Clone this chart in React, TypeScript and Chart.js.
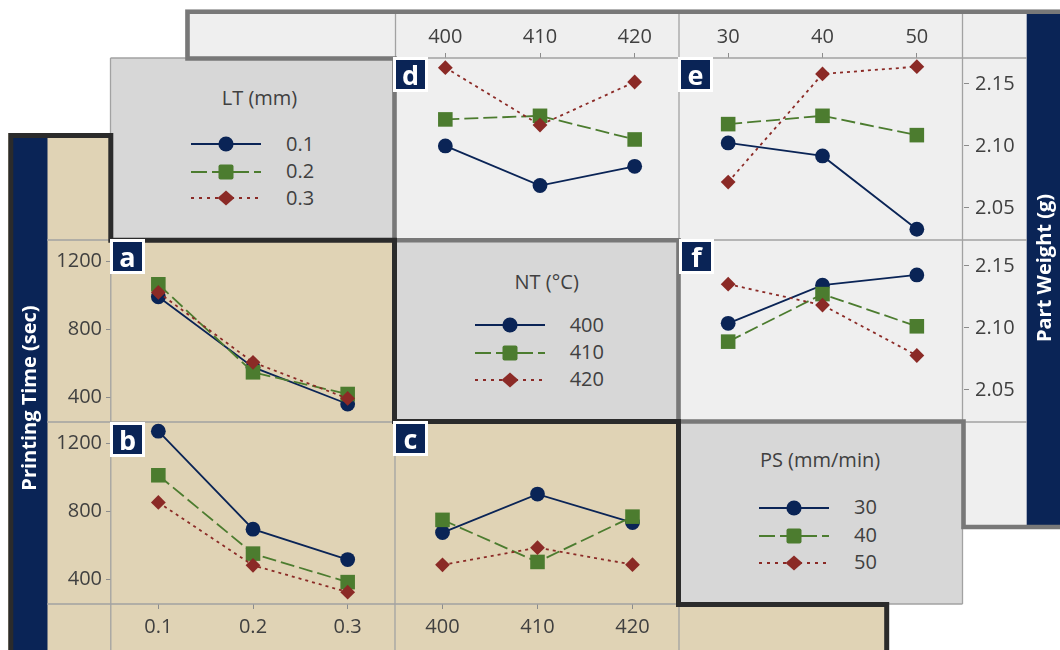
import React, { useEffect, useRef } from "react";
import { Chart, registerables } from "chart.js";

Chart.register(...registerables);

// ---------------- data ----------------
const LT_LEVELS = ["0.1", "0.2", "0.3"];
const NT_LEVELS = ["400", "410", "420"];
const PS_LEVELS = ["30", "40", "50"];

const TIME_TICKS = [400, 800, 1200];
const TIME_TICK_LABELS = ["400", "800", "1200"];
const WEIGHT_TICKS = [2.05, 2.1, 2.15];
const WEIGHT_TICK_LABELS = ["2.05", "2.10", "2.15"];

// (a) Printing time vs LT, lines = NT
const A_NT400 = [993, 578, 361];
const A_NT410 = [1067, 548, 420];
const A_NT420 = [1019, 607, 394];
// (b) Printing time vs LT, lines = PS
const B_PS30 = [1274, 696, 517];
const B_PS40 = [1014, 552, 384];
const B_PS50 = [854, 483, 325];
// (c) Printing time vs NT, lines = PS
const C_PS30 = [676, 903, 735];
const C_PS40 = [751, 503, 770];
const C_PS50 = [486, 587, 487];
// (d) Part weight vs NT, lines = LT
const D_LT01 = [2.1, 2.068, 2.0835];
const D_LT02 = [2.1214, 2.1243, 2.1052];
const D_LT03 = [2.1632, 2.1168, 2.1516];
// (e) Part weight vs PS, lines = LT
const E_LT01 = [2.1024, 2.0919, 2.0327];
const E_LT02 = [2.1176, 2.1243, 2.1087];
const E_LT03 = [2.0708, 2.1581, 2.164];
// (f) Part weight vs PS, lines = NT
const F_NT400 = [2.1037, 2.1345, 2.1428];
const F_NT410 = [2.0889, 2.1273, 2.1013];
const F_NT420 = [2.1353, 2.1184, 2.0777];

const TIME_RANGE = [255, 1328];
const WEIGHT_RANGE = [2.024, 2.171];

// ---------------- styles ----------------
const FONT = "'Open Sans', 'Noto Sans', sans-serif";
const NAVY = "#0a2456";
const GREEN = "#4c7c2f";
const RED = "#8b2a26";
const TEXT = "#404040";
const TAN = "#e0d3b5";
const LIGHT = "#efefef";
const LEGBG = "#d7d7d7";
const DARKB = "#2b2b2b";
const GRAYB = "#787878";
const THIN = "#a2a2a2";

const STYLE = [
  { color: NAVY, point: "circle", radius: 7.4, dash: [] as number[], legDash: "" },
  { color: GREEN, point: "rect", radius: 10.3, dash: [14, 5], legDash: "16 5" },
  { color: RED, point: "rectRot", radius: 7.4, dash: [3, 4], legDash: "3 5" },
];

type PanelSpec = {
  left: number;
  top: number;
  w: number;
  h: number;
  labels: string[];
  series: number[][];
  xPos: "top" | "bottom" | null;
  yPos: "left" | "right" | null;
  yRange: number[];
  yTicks: number[];
  yLabels: string[];
};

const PANELS: PanelSpec[] = [
  { left: 47, top: 240, w: 348, h: 182, labels: LT_LEVELS, series: [A_NT400, A_NT410, A_NT420], xPos: null, yPos: "left", yRange: TIME_RANGE, yTicks: TIME_TICKS, yLabels: TIME_TICK_LABELS },
  { left: 47, top: 422, w: 348, h: 228, labels: LT_LEVELS, series: [B_PS30, B_PS40, B_PS50], xPos: "bottom", yPos: "left", yRange: TIME_RANGE, yTicks: TIME_TICKS, yLabels: TIME_TICK_LABELS },
  { left: 395, top: 422, w: 285, h: 228, labels: NT_LEVELS, series: [C_PS30, C_PS40, C_PS50], xPos: "bottom", yPos: null, yRange: TIME_RANGE, yTicks: TIME_TICKS, yLabels: TIME_TICK_LABELS },
  { left: 398, top: 14, w: 284, h: 226, labels: NT_LEVELS, series: [D_LT01, D_LT02, D_LT03], xPos: "top", yPos: null, yRange: WEIGHT_RANGE, yTicks: WEIGHT_TICKS, yLabels: WEIGHT_TICK_LABELS },
  { left: 681, top: 14, w: 345, h: 226, labels: PS_LEVELS, series: [E_LT01, E_LT02, E_LT03], xPos: "top", yPos: "right", yRange: WEIGHT_RANGE, yTicks: WEIGHT_TICKS, yLabels: WEIGHT_TICK_LABELS },
  { left: 681, top: 240, w: 345, h: 182, labels: PS_LEVELS, series: [F_NT400, F_NT410, F_NT420], xPos: null, yPos: "right", yRange: WEIGHT_RANGE, yTicks: WEIGHT_TICKS, yLabels: WEIGHT_TICK_LABELS },
];

function zeroPad(s: any) {
  s.paddingTop = 0;
  s.paddingBottom = 0;
  s.paddingLeft = 0;
  s.paddingRight = 0;
}

function buildConfig(p: PanelSpec): any {
  const grid = { display: true, drawOnChartArea: false, drawTicks: true, tickLength: 5, color: "#8c8c8c", lineWidth: 1 };
  return {
    type: "line",
    data: {
      labels: p.labels,
      datasets: p.series.map((d, i) => ({
        data: d,
        borderColor: STYLE[i].color,
        backgroundColor: STYLE[i].color,
        pointBackgroundColor: STYLE[i].color,
        pointBorderColor: STYLE[i].color,
        pointBorderWidth: 0,
        pointStyle: STYLE[i].point,
        pointRadius: STYLE[i].radius,
        borderWidth: 1.8,
        borderDash: STYLE[i].dash,
        tension: 0,
        fill: false,
        order: 3 - i,
        clip: false,
      })),
    },
    options: {
      responsive: false,
      maintainAspectRatio: false,
      animation: false,
      events: [],
      layout: { padding: 0, autoPadding: false },
      plugins: { legend: { display: false }, tooltip: { enabled: false } },
      scales: {
        x: {
          type: "category",
          offset: true,
          display: p.xPos !== null,
          position: p.xPos || "bottom",
          grid: { ...grid, offset: false },
          border: { display: false },
          ticks: { color: TEXT, font: { family: FONT, size: 20 }, padding: p.xPos === "top" ? 4 : 6, maxRotation: 0, autoSkip: false },
          afterFit: (s: any) => {
            s.height = p.xPos === null ? 0 : p.xPos === "top" ? 44 : 46;
            zeroPad(s);
          },
        },
        y: {
          type: "linear",
          display: p.yPos !== null,
          position: p.yPos || "left",
          min: p.yRange[0],
          max: p.yRange[1],
          grid: grid,
          border: { display: false },
          afterBuildTicks: (s: any) => {
            s.ticks = p.yTicks.map((v) => ({ value: v }));
          },
          ticks: {
            color: TEXT,
            font: { family: FONT, size: 20 },
            padding: p.yPos === "left" ? 4 : 6,
            autoSkip: false,
            callback: (_v: any, i: number) => p.yLabels[i],
          },
          afterFit: (s: any) => {
            s.width = p.yPos === null ? 0 : p.yPos === "left" ? 64 : 62;
            zeroPad(s);
          },
        },
      },
    },
  };
}

function Panel({ spec }: { spec: PanelSpec }) {
  const ref = useRef<HTMLCanvasElement>(null);
  useEffect(() => {
    const chart = new Chart(ref.current as HTMLCanvasElement, buildConfig(spec));
    return () => chart.destroy();
  }, []);
  return (
    <canvas
      ref={ref}
      width={spec.w}
      height={spec.h}
      style={{ position: "absolute", left: spec.left, top: spec.top, width: spec.w, height: spec.h, zIndex: 1 }}
    />
  );
}

// ---------------- legends ----------------
const LEGENDS = [
  { title: "LT (mm)", items: LT_LEVELS, cx: 259.5, titleY: 98.8, rowsY: [144.2, 171.7, 198.3], lineX: 190.7, textX: 286 },
  { title: "NT (°C)", items: NT_LEVELS, cx: 546.7, titleY: 282.5, rowsY: [325.3, 352.8, 379.5], lineX: 475, textX: 569.7 },
  { title: "PS (mm/min)", items: PS_LEVELS, cx: 820, titleY: 460.8, rowsY: [507.5, 535.8, 562.5], lineX: 759, textX: 854 },
];

function Marker({ i }: { i: number }) {
  const c = STYLE[i].color;
  if (i === 0) return <circle cx={35} cy={10} r={7.6} fill={c} />;
  if (i === 1) return <rect x={27.5} y={2.5} width={15} height={15} rx={2} fill={c} />;
  return <polygon points="35,2.5 43.5,10 35,17.5 26.5,10" fill={c} />;
}

function Legend({ lg }: { lg: (typeof LEGENDS)[number] }) {
  const textStyle: React.CSSProperties = {
    position: "absolute",
    fontFamily: FONT,
    fontSize: 20,
    lineHeight: "24px",
    color: TEXT,
    whiteSpace: "nowrap",
  };
  return (
    <>
      <div style={{ ...textStyle, left: lg.cx - 100, width: 200, textAlign: "center", top: lg.titleY - 12.6 }}>{lg.title}</div>
      {lg.items.map((it, i) => (
        <React.Fragment key={it}>
          <svg width={70} height={20} style={{ position: "absolute", left: lg.lineX, top: lg.rowsY[i] - 10, overflow: "visible" }}>
            <line x1={0} y1={10} x2={70} y2={10} stroke={STYLE[i].color} strokeWidth={1.8} strokeDasharray={STYLE[i].legDash || undefined} />
            <Marker i={i} />
          </svg>
          <div style={{ ...textStyle, left: lg.textX, top: lg.rowsY[i] - 12.6 }}>{it}</div>
        </React.Fragment>
      ))}
    </>
  );
}

const TAGS = [
  { t: "a", x: 110, y: 239 },
  { t: "b", x: 110, y: 421.5 },
  { t: "c", x: 393, y: 421 },
  { t: "d", x: 393, y: 57 },
  { t: "e", x: 678, y: 57 },
  { t: "f", x: 679, y: 239 },
];

export default function App() {
  return (
    <div style={{ position: "fixed", left: 0, top: 0, width: 1060, height: 650, background: "#fff", overflow: "hidden" }}>
      {/* backgrounds */}
      <svg width={1060} height={650} style={{ position: "absolute", left: 0, top: 0, zIndex: 0 }}>
        <polygon points="8,133 113,133 113,240 396,240 396,422 679,422 679,604 889,604 889,650 8,650" fill={TAN} />
        <polygon points="185,9 1060,9 1060,529 962,529 962,422 679,422 679,240 396,240 396,58 185,58" fill={LIGHT} />
        <rect x={110} y={58} width={286} height={182} fill={LEGBG} />
        <rect x={396} y={240} width={283} height={182} fill={LEGBG} />
        <rect x={679} y={422} width={283} height={182} fill={LEGBG} />
        <rect x={12} y={137} width={35.5} height={513} fill={NAVY} />
        <rect x={1026.7} y={13} width={34} height={512} fill={NAVY} />
      </svg>

      {PANELS.map((p, i) => (
        <Panel key={i} spec={p} />
      ))}

      {/* frame lines */}
      <svg width={1060} height={650} style={{ position: "absolute", left: 0, top: 0, zIndex: 2 }}>
        <g stroke={THIN} strokeWidth={1.3} fill="none">
          <path d="M47,240 H110" />
          <path d="M47,422 H396" />
          <path d="M47,604 H679" />
          <path d="M110.8,240 V650" />
          <path d="M395,422 V650" />
          <path d="M679,604 V650" />
          <path d="M110.5,58 V135 M110.5,58 H188" />
          <path d="M395.5,14 V58" />
          <path d="M679,14 V240" />
          <path d="M962.5,14 V422" />
          <path d="M396,58 H1027" />
          <path d="M679,240 H1027" />
          <path d="M962,422 H1027" />
          <path d="M962.5,527 V604 M886,604 H962.5" />
        </g>
        <polyline
          points="1062,11.8 187.5,11.8 187.5,58.5 394.5,58.5 394.5,240.2 678.5,240.2 678.5,421.5 963.5,421.5 963.5,527 1062,527"
          fill="none"
          stroke={GRAYB}
          strokeWidth={4.6}
          strokeLinejoin="miter"
        />
        <polyline
          points="10.8,652 10.8,135.5 110.8,135.5 110.8,240.2 394.5,240.2 394.5,421.5 678.5,421.5 678.5,604.5 886.7,604.5 886.7,652"
          fill="none"
          stroke={DARKB}
          strokeWidth={5}
          strokeLinejoin="miter"
        />
      </svg>

      {LEGENDS.map((lg) => (
        <Legend key={lg.title} lg={lg} />
      ))}

      {TAGS.map((tg) => (
        <div
          key={tg.t}
          style={{
            position: "absolute",
            zIndex: 3,
            left: tg.x,
            top: tg.y,
            width: 35,
            height: 35,
            boxSizing: "border-box",
            border: "3px solid #fff",
            background: NAVY,
            color: "#fff",
            fontFamily: FONT,
            fontWeight: 700,
            fontSize: 27,
            lineHeight: "27px",
            display: "flex",
            alignItems: "center",
            justifyContent: "center",
          }}
        >
          {tg.t}
        </div>
      ))}

      <div
        style={{
          position: "absolute",
          zIndex: 3,
          left: 28.5,
          top: 398,
          transform: "translate(-50%, -50%) rotate(-90deg)",
          color: "#fff",
          fontFamily: FONT,
          fontWeight: 700,
          fontSize: 20,
          lineHeight: "24px",
          whiteSpace: "nowrap",
        }}
      >
        Printing Time (sec)
      </div>
      <div
        style={{
          position: "absolute",
          zIndex: 3,
          left: 1044,
          top: 268,
          transform: "translate(-50%, -50%) rotate(-90deg)",
          color: "#fff",
          fontFamily: FONT,
          fontWeight: 700,
          fontSize: 20,
          lineHeight: "24px",
          whiteSpace: "nowrap",
        }}
      >
        Part Weight (g)
      </div>
    </div>
  );
}
